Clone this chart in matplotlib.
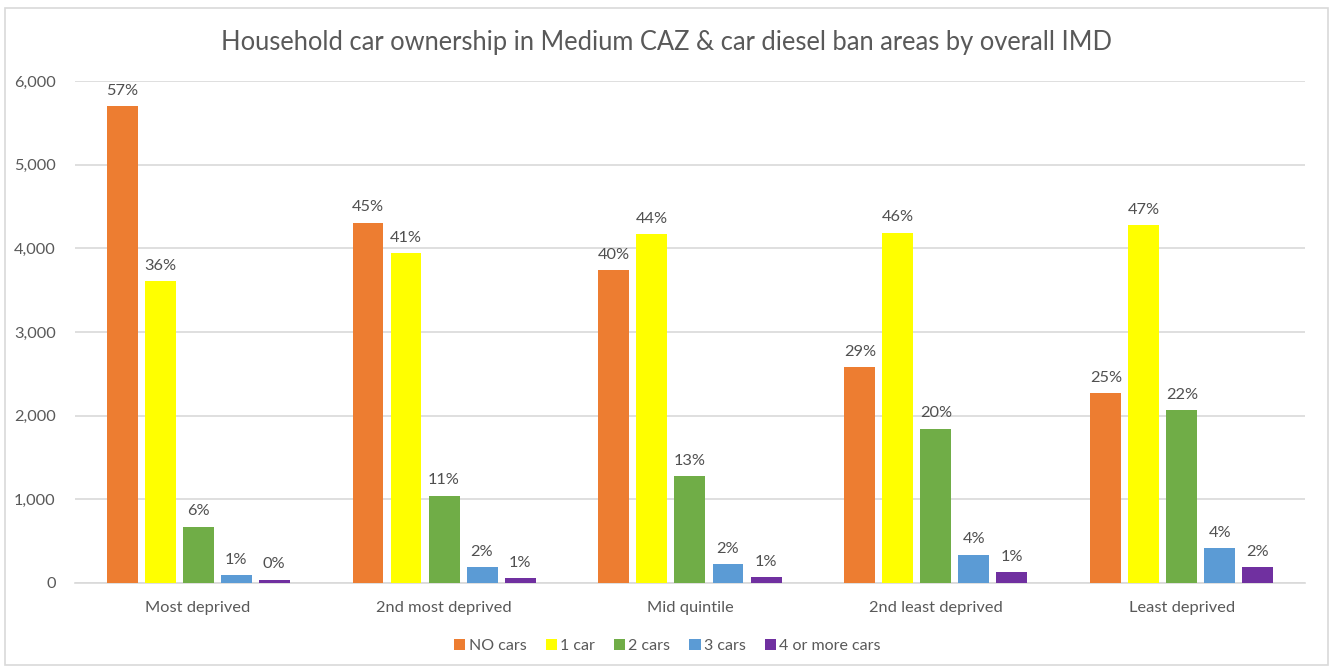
import matplotlib.pyplot as plt
import numpy as np
from matplotlib.patches import Rectangle

plt.rcParams['font.family'] = ['Lato', 'DejaVu Sans']

# household counts per deprivation quintile
quintiles = ['Most deprived', '2nd most deprived', 'Mid quintile',
             '2nd least deprived', 'Least deprived']
series = ['NO cars', '1 car', '2 cars', '3 cars', '4 or more cars']
no_cars = [5702, 4308, 3743, 2581, 2270]
one_car = [3610, 3943, 4173, 4189, 4281]
two_cars = [673, 1043, 1274, 1843, 2062]
three_cars = [96, 186, 227, 338, 418]
four_plus = [40, 60, 72, 127, 186]

# share labels shown above each bar
pct_no_cars = ['57%', '45%', '40%', '29%', '25%']
pct_one_car = ['36%', '41%', '44%', '46%', '47%']
pct_two_cars = ['6%', '11%', '13%', '20%', '22%']
pct_three_cars = ['1%', '2%', '2%', '4%', '4%']
pct_four_plus = ['0%', '1%', '1%', '1%', '2%']

colors = ['#ED7D31', '#FFFF00', '#70AD47', '#5B9BD5', '#7030A0']
values = [no_cars, one_car, two_cars, three_cars, four_plus]
labels = [pct_no_cars, pct_one_car, pct_two_cars, pct_three_cars, pct_four_plus]

fig = plt.figure(figsize=(13.35, 6.7), dpi=100)
ax = fig.add_axes([0.0562, 0.1299, 0.9213, 0.7491])

x = np.arange(len(quintiles))
step = 0.1545
width = 0.126
for i, (name, vals, labs, c) in enumerate(zip(series, values, labels, colors)):
    xs = x + (i - 2) * step
    bars = ax.bar(xs, vals, width=width, color=c, label=name, zorder=3)
    ax.bar_label(bars, labels=labs, padding=6, fontsize=11.8, color='#505050')

ax.set_xlim(-0.5, len(quintiles) - 0.5)
ax.set_ylim(0, 6000)
ax.set_yticks(np.arange(0, 6001, 1000))
ax.set_yticklabels([f'{v:,}' for v in range(0, 6001, 1000)])
ax.set_xticks(x)
ax.set_xticklabels(quintiles)
ax.tick_params(axis='both', length=0, labelsize=11.8, colors='#595959')
ax.tick_params(axis='x', pad=13)
ax.tick_params(axis='y', pad=14)
ax.grid(axis='y', color='#D9D9D9', linewidth=1.2, zorder=0)
for s in ['top', 'right', 'left']:
    ax.spines[s].set_visible(False)
ax.spines['bottom'].set_color('#D9D9D9')
ax.spines['bottom'].set_linewidth(1.2)

fig.text(0.4996, 0.937, 'Household car ownership in Medium CAZ & car diesel ban areas by overall IMD',
         ha='center', va='center', fontsize=18.4, color='#595959')

fig.legend(loc='center', bbox_to_anchor=(0.5, 0.036), ncol=5, frameon=False,
           fontsize=11.5, labelcolor='#595959', handlelength=0.7, handleheight=0.7,
           handletextpad=0.2, columnspacing=1.2)

# chart border
fig.patches.append(Rectangle((0.004, 0.008), 0.991, 0.98, transform=fig.transFigure,
                             fill=False, edgecolor='#D9D9D9', linewidth=1.2))

fig.savefig('out.png', dpi=100)
